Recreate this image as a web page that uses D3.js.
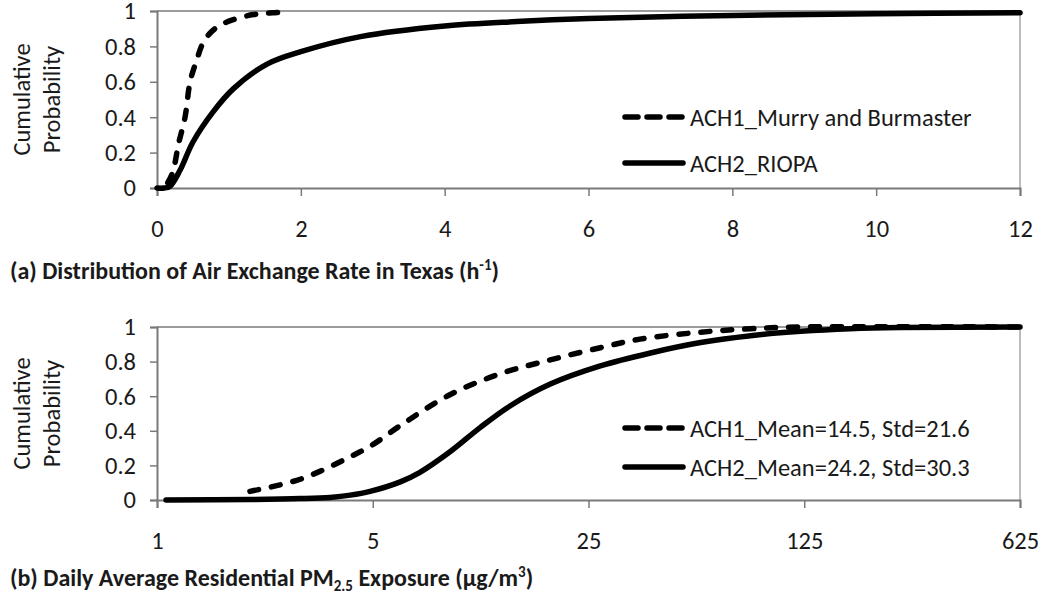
<!DOCTYPE html>
<html><head><meta charset="utf-8">
<script src="https://cdn.jsdelivr.net/npm/d3@7"></script>
<style>
body{margin:0;background:#fff;}
text{font-family:Carlito,Lato,"Open Sans",sans-serif;fill:#1a1a1a;}
</style></head>
<body><svg id="c" width="1050" height="604"></svg>
<script>
// ---- data ----
const topXTicks = [0, 2, 4, 6, 8, 10, 12];
const yTicks = [0, 0.2, 0.4, 0.6, 0.8, 1];
const topAch1X = [0.15, 0.22, 0.3, 0.39, 0.46, 0.55, 0.64, 0.75, 0.88, 1.05, 1.34, 1.6, 1.85];
const topAch1Y = [0.03, 0.09, 0.25, 0.40, 0.60, 0.72, 0.82, 0.88, 0.92, 0.95, 0.98, 0.99, 0.995];
const topAch2X = [0, 0.1, 0.18, 0.32, 0.5, 0.78, 1.06, 1.53, 2, 2.83, 4, 5, 6, 8, 10, 12];
const topAch2Y = [0, 0, 0.01, 0.10, 0.26, 0.43, 0.56, 0.70, 0.77, 0.855, 0.915, 0.94, 0.957, 0.975, 0.985, 0.99];
const botXTicks = [1, 5, 25, 125, 625];
const botAch1X = [2.0, 2.91, 4.23, 5.0, 6.14, 8.92, 12.96, 18.8, 27.3, 36.7, 57.7, 83.8, 121.8, 625];
const botAch1Y = [0.05, 0.12, 0.25, 0.32, 0.43, 0.61, 0.73, 0.81, 0.88, 0.93, 0.97, 0.99, 1, 1];
const botAch2X = [1.07, 2.0, 2.91, 3.64, 4.23, 4.9, 6.14, 7.11, 8.92, 11.16, 13.96, 18.8, 27.3, 39.7, 57.7, 83.8, 121.8, 175.8, 255, 625];
const botAch2Y = [0, 0.003, 0.008, 0.015, 0.028, 0.05, 0.105, 0.16, 0.28, 0.42, 0.545, 0.67, 0.775, 0.85, 0.91, 0.95, 0.975, 0.99, 0.997, 1];
const topLegend = ["ACH1_Murry and Burmaster", "ACH2_RIOPA"];
const botLegend = ["ACH1_Mean=14.5, Std=21.6", "ACH2_Mean=24.2, Std=30.3"];

const svg = d3.select("#c");
svg.append("rect").attr("width",1050).attr("height",604).attr("fill","#fff");
const L = 157, R = 1020;
const axisCol = "#7a7a7a";
const dash = "9,13";
const FS = "24.5px";

function panel(cfg){
  const {x, y, xTicks, xFmt, s1x, s1y, s2x, s2y, legend, legY} = cfg;
  const g = svg.append("g");
  const [y0, y1] = y.range();
  g.append("line").attr("x1",L).attr("x2",R).attr("y1",y1).attr("y2",y1).attr("stroke",axisCol).attr("stroke-width",1.5);
  g.append("line").attr("x1",R).attr("x2",R).attr("y1",y1).attr("y2",y0).attr("stroke",axisCol).attr("stroke-width",1);
  const ya = g.append("g").attr("transform",`translate(${L},0)`)
    .call(d3.axisLeft(y).tickValues(yTicks).tickSize(7).tickPadding(14).tickFormat(d3.format("~g")));
  const xa = g.append("g").attr("transform",`translate(0,${y0})`)
    .call(d3.axisBottom(x).tickValues(xTicks).tickSize(8).tickPadding(24).tickFormat(xFmt));
  [ya, xa].forEach(a=>{
    a.select(".domain").attr("stroke",axisCol).attr("stroke-width",2);
    a.selectAll(".tick line").attr("stroke",axisCol).attr("stroke-width",1.5);
    a.selectAll(".tick text").style("font-size",FS).attr("fill","#1a1a1a");
  });
  const ym = (y0+y1)/2;
  const t = g.append("text").attr("transform",`translate(37,${ym}) rotate(-90)`).attr("text-anchor","middle").style("font-size",FS);
  t.append("tspan").attr("x",0).attr("dy","-0.3em").text("Cumulative");
  t.append("tspan").attr("x",0).attr("dy","1.25em").text("Probability");
  const line = d3.line().x(d=>x(d[0])).y(d=>y(d[1])).curve(d3.curveCatmullRom.alpha(0.5));
  const d1 = s1x.map((v,i)=>[v,s1y[i]]);
  const d2 = s2x.map((v,i)=>[v,s2y[i]]);
  g.append("path").attr("d",line(d2)).attr("fill","none").attr("stroke","#000").attr("stroke-width",5.5).attr("stroke-linecap","round");
  g.append("path").attr("d",line(d1)).attr("fill","none").attr("stroke","#000").attr("stroke-width",5.5).attr("stroke-linecap","round").attr("stroke-dasharray",dash);
  legend.forEach((lab,i)=>{
    const ly = legY[i];
    g.append("line").attr("x1",625).attr("x2",683).attr("y1",ly).attr("y2",ly)
      .attr("stroke","#000").attr("stroke-width",5.5).attr("stroke-linecap","round")
      .attr("stroke-dasharray", i===0 ? "13,9" : null);
    g.append("text").attr("x",690).attr("y",ly).attr("dy","0.35em").style("font-size",FS).text(lab);
  });
  return g;
}

const yTop = d3.scaleLinear().domain([0,1]).range([188,11]);
const xTop = d3.scaleLinear().domain([0,12]).range([L,R]);
panel({x:xTop, y:yTop, xTicks:topXTicks, xFmt:d3.format("d"), s1x:topAch1X, s1y:topAch1Y, s2x:topAch2X, s2y:topAch2Y, legend:topLegend, legY:[117,163]});

const yBot = d3.scaleLinear().domain([0,1]).range([500,327]);
const xBot = d3.scaleLog().base(5).domain([1,625]).range([L,R]);
panel({x:xBot, y:yBot, xTicks:botXTicks, xFmt:d3.format("d"), s1x:botAch1X, s1y:botAch1Y, s2x:botAch2X, s2y:botAch2Y, legend:botLegend, legY:[428,467]});

const ta = svg.append("text").attr("x",10).attr("y",279).style("font-size","24px").style("font-weight","bold");
ta.append("tspan").text("(a) Distribution of Air Exchange Rate in Texas (h");
ta.append("tspan").attr("dy",-9).style("font-size","15px").text("-1");
ta.append("tspan").attr("dy",9).text(")");
const tb = svg.append("text").attr("x",10).attr("y",586).style("font-size","24px").style("font-weight","bold");
tb.append("tspan").text("(b) Daily Average Residential PM");
tb.append("tspan").attr("dy",5).style("font-size","15px").text("2.5");
tb.append("tspan").attr("dy",-5).text(" Exposure (µg/m");
tb.append("tspan").attr("dy",-9).style("font-size","15px").text("3");
tb.append("tspan").attr("dy",9).text(")");
</script></body></html>
